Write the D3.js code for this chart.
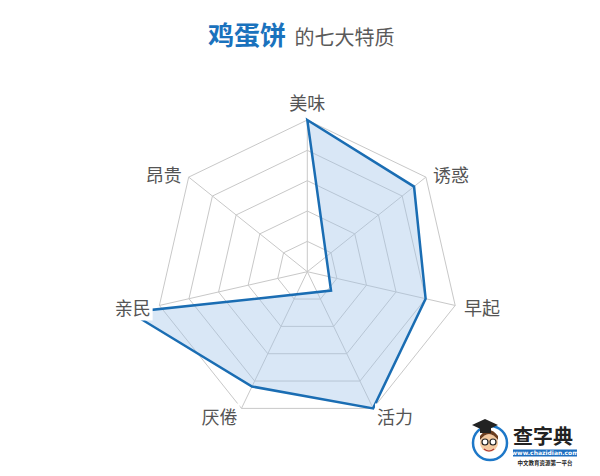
<!DOCTYPE html>
<html>
<head>
<meta charset="utf-8">
<script src="https://cdn.jsdelivr.net/npm/d3@7"></script>
<style>
html,body{margin:0;padding:0;background:#fff;}
svg{display:block;font-family:"Noto Sans CJK SC","Noto Sans",sans-serif;}
</style>
</head>
<body>
<svg id="chart" width="600" height="476"></svg>
<script>
// ---- data ----
const titleMain = "鸡蛋饼";
const titleSub = "的七大特质";
const categories = ["美味", "诱惑", "早起", "活力", "厌倦", "亲民", "昂贵"];
const values = [5, 4.5, 4, 5, 4.2, 6, -1];
const ringLevels = [1, 2, 3, 4, 5];
const maxValue = 5;

const svg = d3.select("#chart");
const cx = 307.3, cy = 271.7, R = 151.7;

// title
const title = svg.append("text").attr("x", 208).attr("y", 45);
title.append("tspan").text(titleMain)
  .attr("font-size", 26).attr("font-weight", "bold").attr("fill", "#1a72bd");
title.append("tspan").text(" " + titleSub)
  .attr("dx", 4).attr("font-size", 20).attr("fill", "#5a5a5a");

const g = svg.append("g").attr("transform", `translate(${cx},${cy})`);

const rScale = d3.scaleLinear().domain([0, maxValue]).range([0, R]);
const step = 2 * Math.PI / categories.length;
const ang = (i) => i * step;

// grid rings
const ringLine = d3.lineRadial().curve(d3.curveLinearClosed)
  .angle((d, i) => ang(i)).radius(d => d);
ringLevels.forEach(l => {
  g.append("path")
    .attr("d", ringLine(categories.map(() => rScale(l))))
    .attr("fill", "none").attr("stroke", "#c8c8c8").attr("stroke-width", 1);
});
// spokes
categories.forEach((c, i) => {
  const a = ang(i);
  g.append("line")
    .attr("x1", 0).attr("y1", 0)
    .attr("x2", rScale(maxValue) * Math.sin(a))
    .attr("y2", -rScale(maxValue) * Math.cos(a))
    .attr("stroke", "#c8c8c8").attr("stroke-width", 1);
});

// data polygon
const dataLine = d3.lineRadial().curve(d3.curveLinearClosed)
  .angle((d, i) => ang(i)).radius(d => rScale(d));
g.append("path")
  .attr("d", dataLine(values))
  .attr("fill", "rgba(160,196,232,0.4)")
  .attr("stroke", "#1a6db3").attr("stroke-width", 2.5)
  .attr("stroke-linejoin", "miter");

// labels with white backing
categories.forEach((c, i) => {
  const a = ang(i);
  const rr = R + 9;
  let x = rr * Math.sin(a), y = -rr * Math.cos(a);
  const s = Math.sin(a);
  let anchor = Math.abs(s) < 0.01 ? "middle" : (s > 0 ? "start" : "end");
  if (Math.abs(s) < 0.01) y -= 9;
  else if (Math.cos(a) > 0.3) y += 2;
  const t = g.append("text")
    .attr("x", x).attr("y", y)
    .attr("text-anchor", anchor)
    .attr("dominant-baseline", "central")
    .attr("font-size", 18).attr("fill", "#555")
    .text(c);
  const bb = t.node().getBBox();
  g.insert("rect", "text")
    .attr("x", bb.x - 2).attr("y", bb.y).attr("width", bb.width + 4).attr("height", bb.height)
    .attr("fill", "#fff");
});

// logo
const logo = svg.append("g");
logo.append("circle").attr("cx", 490).attr("cy", 443).attr("r", 17)
  .attr("fill", "#fff").attr("stroke", "#1e78c8").attr("stroke-width", 2.5);
logo.append("circle").attr("cx", 489).attr("cy", 443).attr("r", 9).attr("fill", "#f3c9a0");
logo.append("path").attr("d", "M480,440 Q489,428 498,440 L498,436 Q489,424 480,436 Z").attr("fill", "#6b3d1f");
logo.append("path").attr("d", "M472,425 L485,419 L498,425 L485,431 Z").attr("fill", "#222");
logo.append("rect").attr("x", 480).attr("y", 427).attr("width", 11).attr("height", 6).attr("fill", "#222");
logo.append("circle").attr("cx", 485).attr("cy", 442).attr("r", 3).attr("fill", "#fff").attr("stroke", "#222").attr("stroke-width", 1.2);
logo.append("circle").attr("cx", 493).attr("cy", 442).attr("r", 3).attr("fill", "#fff").attr("stroke", "#222").attr("stroke-width", 1.2);
logo.append("path").attr("d", "M484,449 Q489,453 494,449").attr("fill", "none").attr("stroke", "#a33").attr("stroke-width", 1.2);
logo.append("text").attr("x", 513).attr("y", 444).attr("font-size", 20).attr("font-weight", "bold")
  .attr("fill", "#222").text("查字典");
logo.append("rect").attr("x", 513).attr("y", 449.5).attr("width", 64).attr("height", 7).attr("fill", "#1e6fbf");
logo.append("text").attr("x", 545).attr("y", 455).attr("text-anchor", "middle").attr("font-size", 6)
  .attr("font-weight", "bold").attr("fill", "#fff").attr("font-family", "DejaVu Sans").text("www.chazidian.com");
logo.append("text").attr("x", 545).attr("y", 465).attr("text-anchor", "middle").attr("font-size", 5.5)
  .attr("font-weight", "bold").attr("fill", "#222").text("中文教育资源第一平台");
</script>
</body>
</html>
